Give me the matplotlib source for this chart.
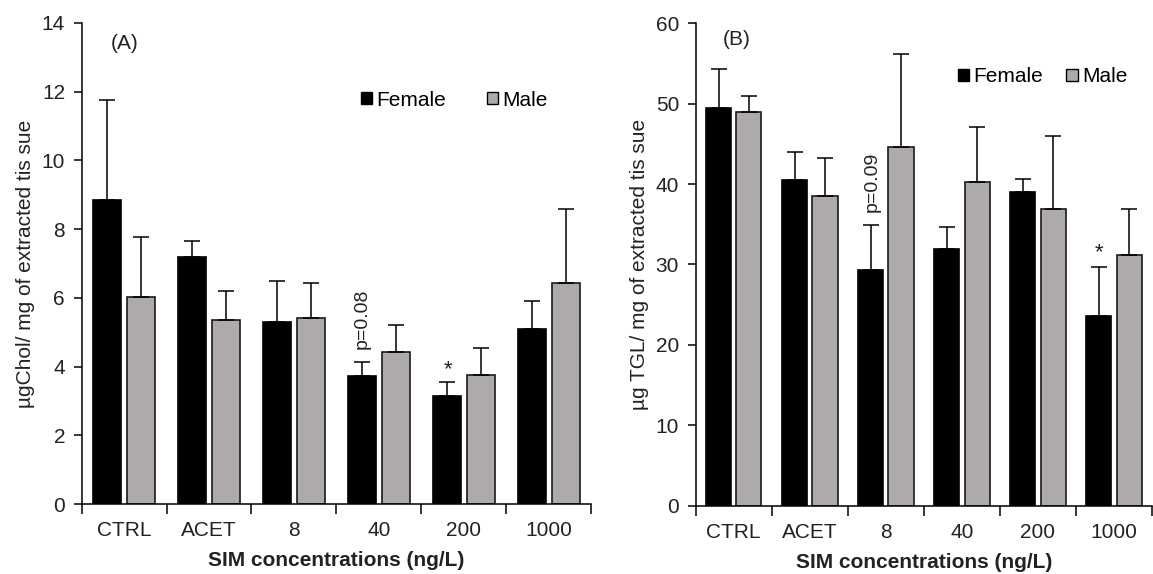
import numpy as np
import matplotlib
matplotlib.use("Agg")
import matplotlib.pyplot as plt
from matplotlib.patches import Patch

categories = ["CTRL", "ACET", "8", "40", "200", "1000"]

chol_female = [8.85, 7.2, 5.3, 3.72, 3.15, 5.1]
chol_female_err = [2.9, 0.46, 1.18, 0.4, 0.4, 0.82]
chol_male = [6.02, 5.36, 5.41, 4.43, 3.76, 6.43]
chol_male_err = [1.75, 0.84, 1.03, 0.78, 0.79, 2.17]

tgl_female = [49.45, 40.5, 29.3, 31.9, 38.95, 23.6]
tgl_female_err = [4.9, 3.5, 5.6, 2.8, 1.7, 6.1]
tgl_male = [49.0, 38.5, 44.6, 40.3, 36.95, 31.2]
tgl_male_err = [1.95, 4.8, 11.6, 6.8, 9.0, 5.7]

plt.rcParams['font.family'] = ['Liberation Sans', 'DejaVu Sans']

W, H = 1153, 574
fig = plt.figure(figsize=(W / 100, H / 100), dpi=100)
axA = fig.add_axes([81.7 / W, 1 - 504 / H, (591 - 81.7) / W, (504 - 23) / H])
axB = fig.add_axes([695.7 / W, 1 - 505.5 / H, (1152 - 695.7) / W, (505.5 - 23.3) / H])

GRAY = "#aeaaa9"
TXT = "#222222"

def draw(ax, f, fe, m, me, ymax, ystep, ylabel):
    x = np.arange(len(categories))
    w = 0.33
    ax.bar(x - 0.2, f, w, color="black", edgecolor="black", linewidth=1.2)
    ax.bar(x + 0.2, m, w, color=GRAY, edgecolor="#1a1a1a", linewidth=1.2)
    ax.errorbar(x - 0.2, f, yerr=[np.zeros(len(f)), fe], fmt="none",
                ecolor="black", elinewidth=1.1, capsize=5.5, capthick=1.1)
    ax.errorbar(x + 0.2, m, yerr=[np.zeros(len(m)), me], fmt="none",
                ecolor="black", elinewidth=1.1, capsize=5.5, capthick=1.1)
    ax.set_xlim(-0.5, len(categories) - 0.5)
    ax.set_ylim(0, ymax)
    ax.set_yticks(np.arange(0, ymax + 0.1, ystep))
    ax.set_xticks(x)
    ax.set_xticklabels(categories, fontsize=15, color=TXT)
    ax.set_xticks(np.arange(-0.5, len(categories) - 0.4, 1.0), minor=True)
    ax.tick_params(axis="x", which="major", length=0, pad=12.5)
    ax.tick_params(axis="x", which="minor", length=7, width=1.1, direction="out")
    ax.tick_params(axis="y", length=6, width=1.1, direction="out", labelsize=15,
                   labelcolor=TXT, pad=6)
    for s in ["top", "right"]:
        ax.spines[s].set_visible(False)
    for s in ["left", "bottom"]:
        ax.spines[s].set_linewidth(1.1)
    ax.set_xlabel("SIM concentrations (ng/L)", fontsize=15, fontweight="bold",
                  color=TXT, labelpad=8)
    ax.set_ylabel(ylabel, fontsize=15, color=TXT, labelpad=5)

draw(axA, chol_female, chol_female_err, chol_male, chol_male_err, 14, 2,
     "µgChol/ mg of extracted tis sue")
draw(axB, tgl_female, tgl_female_err, tgl_male, tgl_male_err, 60, 10,
     "µg TGL/ mg of extracted tis sue")

# Annotations panel A
axA.text(0.0, 13.4, "(A)", fontsize=15, ha="center", va="center", color=TXT)
axA.text(2.8, chol_female[3] + chol_female_err[3] + 0.4, "p=0.08", rotation=90,
         fontsize=14, ha="center", va="bottom", color=TXT)
axA.text(3.82, chol_female[4] + chol_female_err[4] + 0.05, "*", fontsize=16,
         ha="center", va="bottom", color=TXT)

# Annotations panel B
axB.text(0.04, 58.0, "(B)", fontsize=15, ha="center", va="center", color=TXT)
axB.text(1.82, tgl_female[2] + tgl_female_err[2] + 1.6, "p=0.09", rotation=90,
         fontsize=14, ha="center", va="bottom", color=TXT)
axB.text(4.8, tgl_female[5] + tgl_female_err[5] + 0.5, "*", fontsize=16,
         ha="center", va="bottom", color=TXT)

handles = [Patch(facecolor="black", edgecolor="black"),
           Patch(facecolor=GRAY, edgecolor="black")]
fig.legend(handles, ["Female", "Male"], ncol=2, frameon=False, fontsize=15,
           loc="center left", bbox_to_anchor=(361 / W, 1 - 100 / H), borderpad=0,
           borderaxespad=0, handlelength=0.55, handleheight=0.55,
           handletextpad=0.2, columnspacing=1.95)
fig.legend(handles, ["Female", "Male"], ncol=2, frameon=False, fontsize=15,
           loc="center left", bbox_to_anchor=(958 / W, 1 - 77 / H), borderpad=0,
           borderaxespad=0, handlelength=0.55, handleheight=0.55,
           handletextpad=0.2, columnspacing=1.1)

fig.savefig("out.png", dpi=100, facecolor="white")
